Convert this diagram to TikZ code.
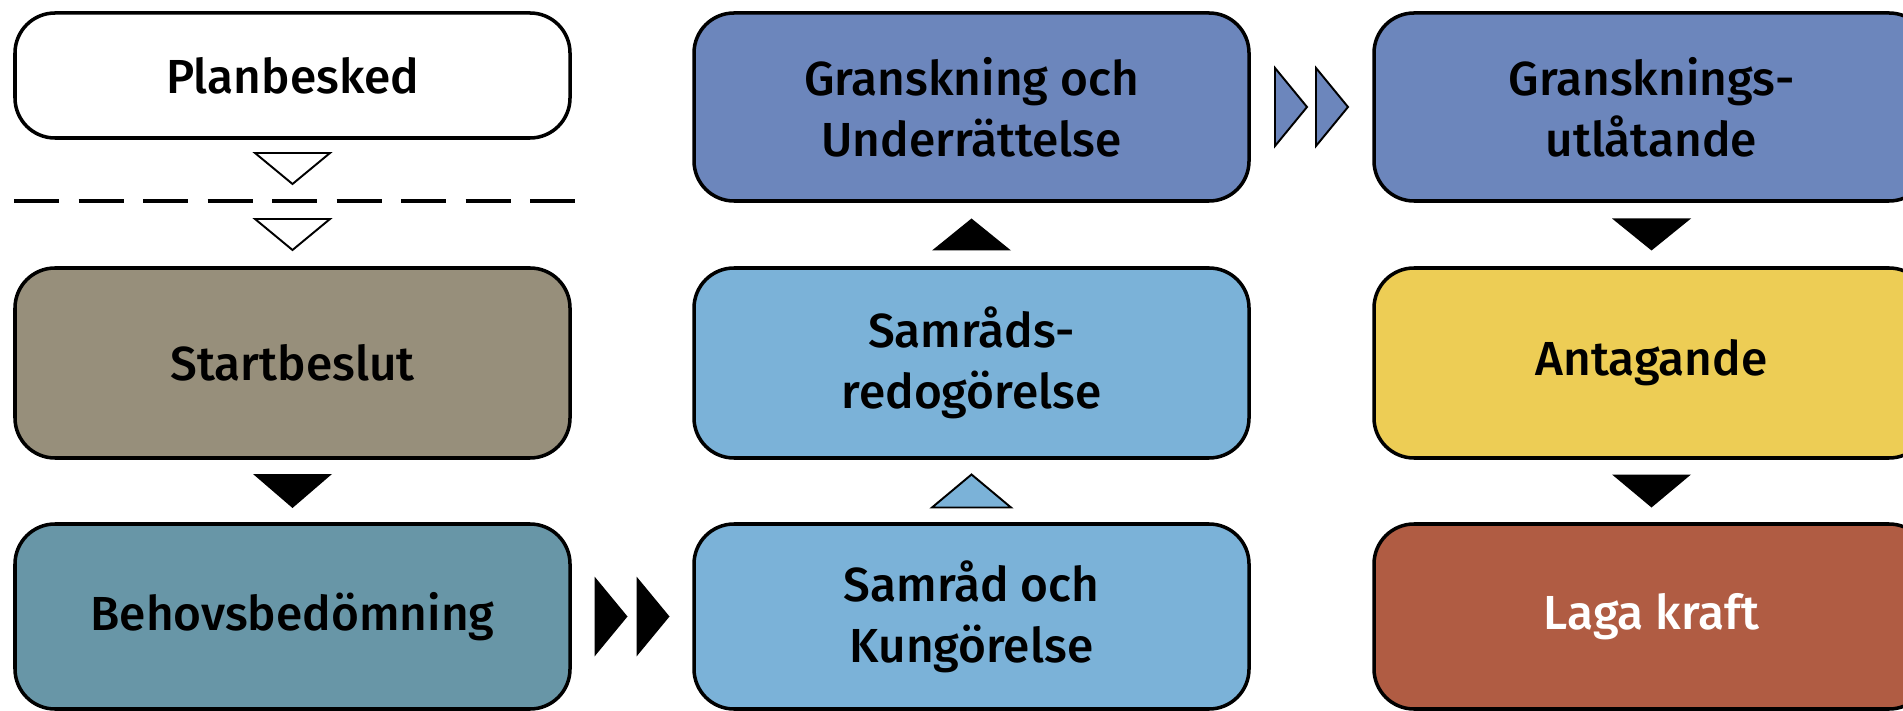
\documentclass[tikz,border=0pt]{standalone}
\usepackage{fontspec}
\setmainfont{Fira Sans}[UprightFont=* Medium]
\usetikzlibrary{calc}

\definecolor{startgray}{RGB}{151,143,123}
\definecolor{behovteal}{RGB}{104,150,167}
\definecolor{samradblue}{RGB}{123,178,216}
\definecolor{granskblue}{RGB}{108,134,188}
\definecolor{antagyellow}{RGB}{237,205,85}
\definecolor{lagared}{RGB}{176,92,67}

\tikzset{
  stage/.style={draw=black, line width=1pt, rounded corners=0.4cm,
    minimum width=5.55cm, minimum height=1.88cm, align=center,
    font=\fontsize{13.6}{17.4}\selectfont},
  solidtri/.style={fill=black},
  opentri/.style={draw=black, fill=white, line width=0.55pt, line join=miter},
}

\begin{document}
\begin{tikzpicture}
  \useasboundingbox (0,0) rectangle (19.03,7.10);
  \clip (0,0) rectangle (19.03,7.10);

  % column 1
  \node[stage, fill=white, minimum height=1.25cm] (plan) at (2.925,6.345) {Planbesked};
  \node[stage, fill=startgray, minimum height=1.90cm] (startb) at (2.925,3.47) {Startbeslut};
  \node[stage, fill=behovteal, minimum height=1.85cm] (behov) at (2.925,0.935) {Behovsbedömning};
  % column 2
  \node[stage, fill=granskblue] (gransk) at (9.715,6.03) {Granskning och\\Underrättelse};
  \node[stage, fill=samradblue, minimum height=1.90cm] (samredo) at (9.715,3.47) {Samråds-\\redogörelse};
  \node[stage, fill=samradblue, minimum height=1.85cm] (samrad) at (9.715,0.935) {Samråd och\\Kungörelse};
  % column 3
  \node[stage, fill=granskblue] (granutl) at (16.515,6.03) {Gransknings-\\utlåtande};
  \node[stage, fill=antagyellow, minimum height=1.90cm] (antag) at (16.515,3.47) {Antagande};
  \node[stage, fill=lagared, text=white, minimum height=1.85cm] (laga) at (16.515,0.935) {Laga kraft};

  % dashed line below Planbesked
  \coordinate (cutL) at (0.14,5.09);
  \coordinate (cutR) at (5.75,5.09);
  \draw[line width=1.4pt, dash pattern=on 4.5mm off 1.95mm] (cutL) -- (cutR);
  \draw[opentri] ($(cutL-|plan)+(-0.375,0.48)$) -- ++(0.75,0) -- ++(-0.375,-0.31) -- cycle;
  \draw[opentri] ($(cutL-|plan)+(-0.375,-0.18)$) -- ++(0.75,0) -- ++(-0.375,-0.31) -- cycle;

  % vertical steps
  \fill[solidtri] ($(startb.south)!.5!(behov.north)$) +(-0.395,0.17) -- +(0.395,0.17) -- +(0,-0.17) -- cycle;
  \fill[solidtri] ($(samredo.north)!.5!(gransk.south)$) +(-0.395,-0.16) -- +(0.395,-0.16) -- +(0,0.16) -- cycle;
  \filldraw[fill=samradblue, draw=black, line width=0.55pt] ($(samrad.north)!.5!(samredo.south)$) +(-0.395,-0.165) -- +(0.395,-0.165) -- +(0,0.165) -- cycle;
  \fill[solidtri] ($(granutl.south)!.5!(antag.north)$) +(-0.395,0.16) -- +(0.395,0.16) -- +(0,-0.16) -- cycle;
  \fill[solidtri] ($(antag.south)!.5!(laga.north)$) +(-0.395,0.165) -- +(0.395,0.165) -- +(0,-0.165) -- cycle;

  % double steps across
  \coordinate (dblA) at ($(behov.east)!.5!(samrad.west)$);
  \coordinate (dblB) at ($(gransk.east)!.5!(granutl.west)$);
  \fill[solidtri] (dblA) +(-0.375,0.40) -- +(-0.045,0) -- +(-0.375,-0.40) -- cycle
    (dblA) +(0.045,0.40) -- +(0.375,0) -- +(0.045,-0.40) -- cycle;
  \filldraw[fill=granskblue, draw=black, line width=0.55pt] (dblB) +(-0.365,0.39) -- +(-0.045,0) -- +(-0.365,-0.39) -- cycle
    (dblB) +(0.045,0.39) -- +(0.365,0) -- +(0.045,-0.39) -- cycle;
\end{tikzpicture}
\end{document}
